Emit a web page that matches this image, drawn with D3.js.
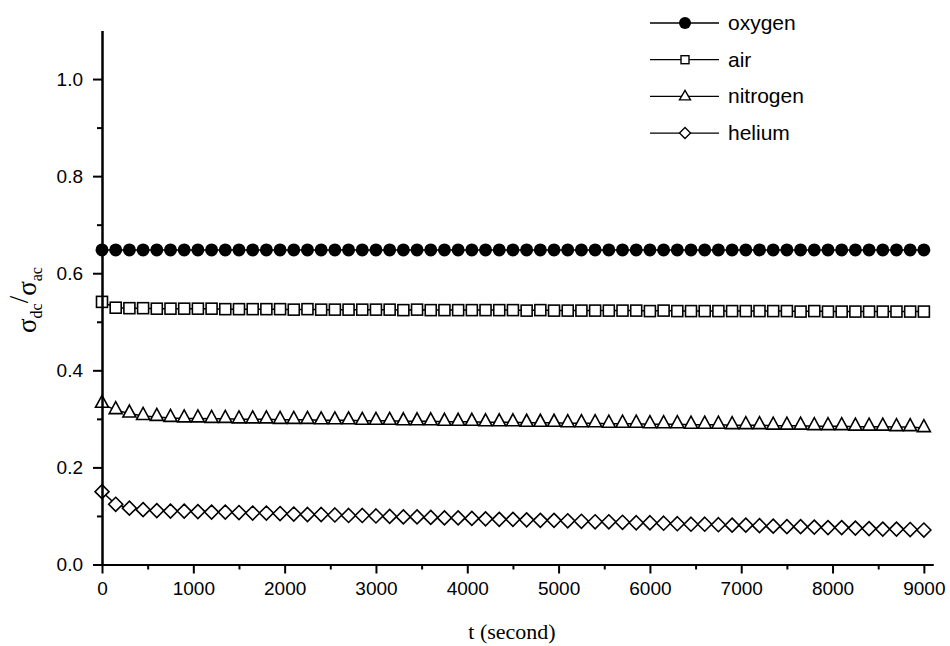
<!DOCTYPE html>
<html>
<head>
<meta charset="utf-8">
<script src="https://cdn.jsdelivr.net/npm/d3@7"></script>
<style>
  body { margin: 0; background: #fff; }
  svg text { fill: #000; }
</style>
</head>
<body>
<svg id="chart" width="950" height="646"></svg>
<script>
// sampling times (s)
const times = [0,150,300,450,600,750,900,1050,1200,1350,1500,1650,1800,1950,2100,2250,2400,2550,2700,2850,
  3000,3150,3300,3450,3600,3750,3900,4050,4200,4350,4500,4650,4800,4950,5100,5250,5400,5550,5700,5850,
  6000,6150,6300,6450,6600,6750,6900,7050,7200,7350,7500,7650,7800,7950,8100,8250,8400,8550,8700,8850,9000];

const oxygen = [0.648,0.648,0.648,0.648,0.648,0.648,0.648,0.648,0.648,0.648,0.648,
  0.648,0.648,0.648,0.648,0.648,0.648,0.648,0.648,0.648,0.648,
  0.648,0.648,0.648,0.648,0.648,0.648,0.648,0.648,0.648,0.648,
  0.648,0.648,0.648,0.648,0.648,0.648,0.648,0.648,0.648,0.648,
  0.648,0.648,0.648,0.648,0.648,0.648,0.648,0.648,0.648,0.648,
  0.648,0.648,0.648,0.648,0.648,0.648,0.648,0.648,0.648,0.648];

const air = [0.541,0.529,0.528,0.528,0.527,0.527,0.527,0.527,0.527,0.526,0.526,
  0.526,0.526,0.526,0.525,0.526,0.525,0.525,0.525,0.525,0.525,
  0.525,0.524,0.525,0.524,0.524,0.524,0.524,0.524,0.524,0.524,
  0.523,0.524,0.523,0.523,0.523,0.523,0.523,0.523,0.523,0.522,
  0.523,0.522,0.522,0.522,0.522,0.522,0.522,0.522,0.522,0.522,
  0.521,0.522,0.521,0.521,0.521,0.521,0.521,0.521,0.521,0.521];

const nitrogen = [0.331,0.318,0.311,0.306,0.304,0.302,0.301,0.301,0.300,0.300,0.299,
  0.299,0.299,0.298,0.298,0.298,0.297,0.297,0.297,0.296,0.296,
  0.296,0.295,0.295,0.295,0.294,0.294,0.294,0.293,0.293,0.293,
  0.292,0.292,0.292,0.291,0.291,0.291,0.290,0.290,0.290,0.289,
  0.289,0.289,0.288,0.288,0.288,0.287,0.287,0.287,0.286,0.286,
  0.286,0.285,0.285,0.285,0.284,0.284,0.284,0.283,0.283,0.281];

const helium = [0.150,0.124,0.116,0.113,0.111,0.110,0.110,0.109,0.108,0.108,0.107,
  0.106,0.106,0.105,0.104,0.103,0.103,0.102,0.101,0.101,0.100,
  0.099,0.098,0.098,0.097,0.096,0.096,0.095,0.094,0.093,0.093,
  0.092,0.091,0.091,0.090,0.089,0.088,0.088,0.087,0.086,0.086,
  0.085,0.084,0.083,0.083,0.082,0.081,0.081,0.080,0.079,0.078,
  0.078,0.077,0.076,0.076,0.075,0.074,0.073,0.073,0.072,0.071];

const seriesNames = ["oxygen", "air", "nitrogen", "helium"];
const seriesValues = [oxygen, air, nitrogen, helium];
const xTicks = [0,1000,2000,3000,4000,5000,6000,7000,8000,9000];
const yTicks = [0.0,0.2,0.4,0.6,0.8,1.0];

const svg = d3.select("#chart");

const x = d3.scaleLinear().domain([0, 9100]).range([102, 933]);
const y = d3.scaleLinear().domain([0, 1.1]).range([564.5, 30.5]);

// marker shapes
function marker(sel, kind) {
  if (kind === "oxygen") {
    sel.append("circle").attr("r", 6.5).attr("fill", "#000");
  } else if (kind === "air") {
    sel.append("rect").attr("x", -5.5).attr("y", -5.5).attr("width", 11).attr("height", 11)
      .attr("fill", "#fff").attr("stroke", "#000").attr("stroke-width", 1.6);
  } else if (kind === "nitrogen") {
    sel.append("path").attr("d", "M0,-8.5L6.5,3.5L-6.5,3.5Z")
      .attr("fill", "#fff").attr("stroke", "#000").attr("stroke-width", 1.6);
  } else {
    sel.append("path").attr("d", "M0,-7L7,0L0,7L-7,0Z")
      .attr("fill", "#fff").attr("stroke", "#000").attr("stroke-width", 1.6);
  }
}

// series lines + markers
const line = d3.line().x((d, i) => x(times[i])).y(d => y(d));
seriesNames.forEach((name, k) => {
  const vals = seriesValues[k];
  svg.append("path")
    .datum(vals)
    .attr("d", line)
    .attr("fill", "none")
    .attr("stroke", "#000")
    .attr("stroke-width", 1.5);
  svg.append("g").selectAll("g")
    .data(vals)
    .enter().append("g")
    .attr("transform", (d, i) => `translate(${x(times[i])},${y(d)})`)
    .each(function() { marker(d3.select(this), name); });
});

// axes
const xAxis = svg.append("g").attr("transform", `translate(0,${y(0)})`)
  .call(d3.axisBottom(x).tickValues(xTicks).tickSize(9).tickSizeOuter(0).tickPadding(8).tickFormat(d3.format("d")));
const xMinor = svg.append("g").attr("transform", `translate(0,${y(0)})`)
  .call(d3.axisBottom(x).tickValues(d3.range(500, 9000, 1000)).tickSize(5).tickSizeOuter(0).tickFormat(""));

const yAxis = svg.append("g").attr("transform", `translate(${x(0)},0)`)
  .call(d3.axisLeft(y).tickValues(yTicks).tickSize(9).tickSizeOuter(0).tickPadding(10).tickFormat(d3.format(".1f")));
const yMinor = svg.append("g").attr("transform", `translate(${x(0)},0)`)
  .call(d3.axisLeft(y).tickValues([0.1,0.3,0.5,0.7,0.9]).tickSize(5).tickSizeOuter(0).tickFormat(""));

[xAxis, xMinor, yAxis, yMinor].forEach(a => {
  a.selectAll("path.domain").attr("stroke", "#000").attr("stroke-width", 2);
  a.selectAll(".tick line").attr("stroke", "#000").attr("stroke-width", 2);
  a.selectAll("text").attr("font-family", "Liberation Sans, Arial, sans-serif").attr("font-size", 19);
});

// axis titles
svg.append("text")
  .attr("x", 512).attr("y", 639)
  .attr("text-anchor", "middle")
  .attr("font-family", "Liberation Serif, Times New Roman, serif")
  .attr("font-size", 22)
  .text("t (second)");

const yTitle = svg.append("text")
  .attr("transform", "translate(36,300) rotate(-90)")
  .attr("text-anchor", "middle")
  .attr("font-family", "Liberation Serif, Times New Roman, serif")
  .attr("font-size", 27);
yTitle.append("tspan").text("σ");
yTitle.append("tspan").attr("font-size", 16).attr("dy", 6).text("dc");
yTitle.append("tspan").attr("dy", -14).attr("font-size", 27).text("/");
yTitle.append("tspan").attr("dy", 8).attr("font-size", 27).text("σ");
yTitle.append("tspan").attr("font-size", 16).attr("dy", 6).text("ac");

// legend
const legend = svg.append("g");
seriesNames.forEach((name, k) => {
  const ly = 23 + k * 36.7;
  const g = legend.append("g").attr("transform", `translate(0,${ly})`);
  g.append("line").attr("x1", 650).attr("x2", 719).attr("y1", 0).attr("y2", 0)
    .attr("stroke", "#000").attr("stroke-width", 1.3);
  const m = g.append("g").attr("transform", "translate(685,0)");
  if (name === "oxygen") {
    m.append("circle").attr("r", 6).attr("fill", "#000");
  } else if (name === "air") {
    m.append("rect").attr("x", -4).attr("y", -4).attr("width", 8).attr("height", 8)
      .attr("fill", "#fff").attr("stroke", "#000").attr("stroke-width", 1.4);
  } else if (name === "nitrogen") {
    m.append("path").attr("d", "M0,-6L5.5,3.5L-5.5,3.5Z")
      .attr("fill", "#fff").attr("stroke", "#000").attr("stroke-width", 1.4);
  } else {
    m.append("path").attr("d", "M0,-5.5L5.5,0L0,5.5L-5.5,0Z")
      .attr("fill", "#fff").attr("stroke", "#000").attr("stroke-width", 1.4);
  }
  g.append("text").attr("x", 728).attr("y", 7)
    .attr("font-family", "Liberation Sans, Arial, sans-serif")
    .attr("font-size", 21)
    .text(name);
});
</script>
</body>
</html>
